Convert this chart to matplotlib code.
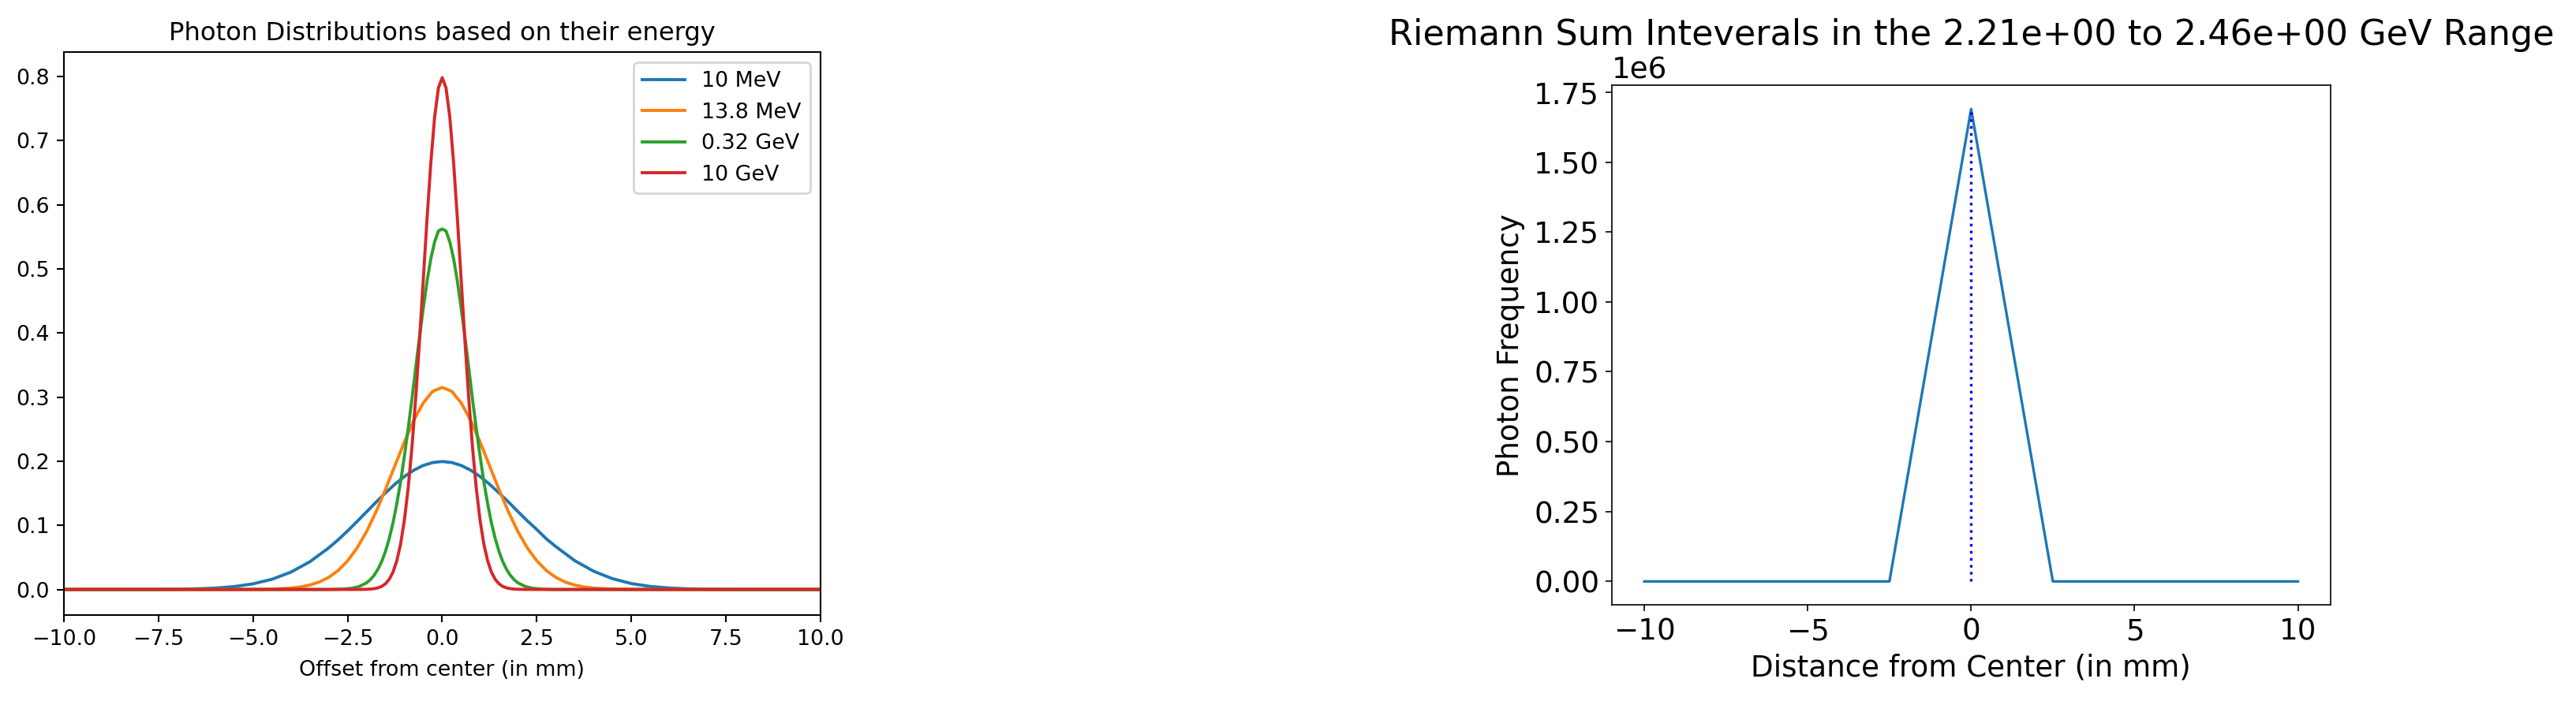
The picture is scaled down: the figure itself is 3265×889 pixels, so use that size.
import matplotlib
matplotlib.use("Agg")
import matplotlib.pyplot as plt

# ---- Left panel data: photon distributions ----
x_10mev = [-10.0, -9.0, -8.0, -7.5, -7.0, -6.5, -6.0, -5.5, -5.0, -4.5, -4.0, -3.5, -3.0, -2.75, -2.5, -2.25, -2.0, -1.75, -1.5, -1.25, -1.0, -0.75, -0.5, -0.25,
           0.0, 0.25, 0.5, 0.75, 1.0, 1.25, 1.5, 1.75, 2.0, 2.25, 2.5, 2.75, 3.0, 3.5, 4.0, 4.5, 5.0, 5.5, 6.0, 6.5, 7.0, 7.5, 8.0, 9.0, 10.0]
y_10mev = [0.0, 0.0, 0.0001, 0.0002, 0.0004, 0.0010, 0.0022, 0.0045, 0.0088, 0.0159, 0.0270, 0.0432, 0.0648, 0.0775, 0.0913, 0.1060, 0.1210, 0.1360, 0.1506, 0.1641, 0.1761, 0.1860, 0.1934, 0.1979,
           0.1995, 0.1979, 0.1934, 0.1860, 0.1761, 0.1641, 0.1506, 0.1365, 0.1215, 0.1070, 0.0935, 0.0790, 0.0670, 0.0450, 0.0285, 0.0168, 0.0092, 0.0047, 0.0023, 0.0010, 0.0004, 0.0002, 0.0001, 0.0, 0.0]

x_13mev = [-10.0, -6.0, -5.0, -4.5, -4.0, -3.75, -3.5, -3.25, -3.0, -2.75, -2.5, -2.25, -2.0, -1.75, -1.5, -1.25, -1.0, -0.75, -0.5, -0.25,
           0.0, 0.25, 0.5, 0.75, 1.0, 1.25, 1.5, 1.75, 2.0, 2.25, 2.5, 2.75, 3.0, 3.25, 3.5, 3.75, 4.0, 4.5, 5.0, 6.0, 10.0]
y_13mev = [0.0, 0.0, 0.0001, 0.0006, 0.0021, 0.0039, 0.0069, 0.0116, 0.0189, 0.0296, 0.0447, 0.0647, 0.0903, 0.121, 0.156, 0.193, 0.230, 0.264, 0.291, 0.309,
           0.315, 0.309, 0.291, 0.264, 0.230, 0.193, 0.156, 0.121, 0.0903, 0.0647, 0.0447, 0.0296, 0.0189, 0.0116, 0.0069, 0.0039, 0.0021, 0.0006, 0.0001, 0.0, 0.0]

x_032gev = [-10.0, -3.0, -2.8, -2.6, -2.4, -2.2, -2.0, -1.9, -1.8, -1.7, -1.6, -1.5, -1.4, -1.3, -1.2, -1.1, -1.0, -0.9, -0.8, -0.7, -0.6, -0.5, -0.4, -0.3, -0.2, -0.1,
            0.0, 0.1, 0.2, 0.3, 0.4, 0.5, 0.6, 0.7, 0.8, 0.9, 1.0, 1.1, 1.2, 1.3, 1.4, 1.5, 1.6, 1.7, 1.8, 1.9, 2.0, 2.2, 2.4, 2.6, 2.8, 3.0, 10.0]
y_032gev = [0.0, 0.0, 0.0002, 0.0007, 0.0018, 0.0045, 0.0103, 0.0153, 0.0221, 0.0314, 0.0436, 0.0595, 0.0795, 0.104, 0.134, 0.168, 0.208, 0.251, 0.297, 0.346, 0.394, 0.439, 0.481, 0.516, 0.542, 0.559,
            0.562, 0.559, 0.542, 0.516, 0.481, 0.439, 0.394, 0.346, 0.297, 0.251, 0.208, 0.168, 0.134, 0.104, 0.0795, 0.0595, 0.0436, 0.0314, 0.0221, 0.0153, 0.0103, 0.0045, 0.0018, 0.0007, 0.0002, 0.0, 0.0]

x_10gev = [-10.0, -2.2, -2.0, -1.9, -1.8, -1.7, -1.6, -1.5, -1.4, -1.3, -1.2, -1.1, -1.0, -0.9, -0.8, -0.7, -0.6, -0.5, -0.4, -0.3, -0.2, -0.1,
           0.0, 0.1, 0.2, 0.3, 0.4, 0.5, 0.6, 0.7, 0.8, 0.9, 1.0, 1.1, 1.2, 1.3, 1.4, 1.5, 1.6, 1.7, 1.8, 1.9, 2.0, 2.2, 10.0]
y_10gev = [0.0, 0.0, 0.0003, 0.0006, 0.0012, 0.0025, 0.0048, 0.0089, 0.0158, 0.0272, 0.0448, 0.0709, 0.108, 0.158, 0.222, 0.299, 0.388, 0.484, 0.579, 0.666, 0.737, 0.782,
           0.798, 0.782, 0.737, 0.666, 0.579, 0.484, 0.388, 0.299, 0.222, 0.158, 0.108, 0.0709, 0.0448, 0.0272, 0.0158, 0.0089, 0.0048, 0.0025, 0.0012, 0.0006, 0.0003, 0.0, 0.0]

labels = ["10 MeV", "13.8 MeV", "0.32 GeV", "10 GeV"]
colors = ["#1f77b4", "#ff7f0e", "#2ca02c", "#d62728"]

# ---- Right panel data: Riemann sum intervals ----
x_riemann = [-10.0, -7.5, -5.0, -2.5, 0.0, 2.5, 5.0, 7.5, 10.0]
y_riemann = [0.0, 0.0, 0.0, 0.0, 1.69e6, 0.0, 0.0, 0.0, 0.0]
center_x = 0.0
peak_y = 1.69e6

DPI = 200
fig = plt.figure(figsize=(3266 / DPI, 889 / DPI), dpi=DPI)

# Left axes
axL = fig.add_axes([81 / 3266, 1 - 780 / 889, (1040 - 81) / 3266, (780 - 66) / 889])
fsL = 9.7
for xs, ys, lab, c in zip([x_10mev, x_13mev, x_032gev, x_10gev],
                          [y_10mev, y_13mev, y_032gev, y_10gev], labels, colors):
    axL.plot(xs, ys, color=c, lw=1.4, label=lab)
axL.set_xlim(-10, 10)
axL.set_title("Photon Distributions based on their energy", fontsize=11.6, pad=5.5)
axL.set_xlabel("Offset from center (in mm)", fontsize=fsL, labelpad=4.5)
axL.tick_params(labelsize=fsL, length=3.3, width=0.75, pad=3.2)
for s in axL.spines.values():
    s.set_linewidth(0.75)
axL.legend(loc="upper right", fontsize=fsL)

# Right axes
axR = fig.add_axes([2042.7 / 3266, 1 - 767.3 / 889, (2954 - 2042.7) / 3266, (767.3 - 108.3) / 889])
fsR = 13.4
axR.plot(x_riemann, y_riemann, color="#1f77b4", lw=1.2)
axR.vlines(center_x, 0, peak_y, colors="blue", linestyles=":", lw=1.2)
axR.set_title("Riemann Sum Inteverals in the 2.21e+00 to 2.46e+00 GeV Range", fontsize=16, pad=5)
axR.set_xlabel("Distance from Center (in mm)", fontsize=fsR, labelpad=3)
axR.set_ylabel("Photon Frequency", fontsize=fsR)
axR.tick_params(labelsize=fsR, length=2.8, width=0.6, pad=2.8)
axR.yaxis.get_offset_text().set_fontsize(fsR)
for s in axR.spines.values():
    s.set_linewidth(0.6)

fig.savefig("out.png", dpi=DPI)
